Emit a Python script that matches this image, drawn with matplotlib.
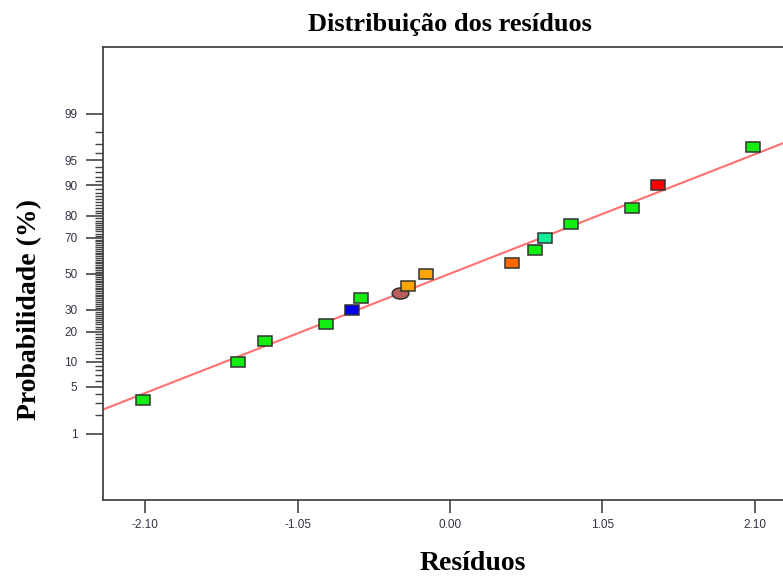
import numpy as np
import matplotlib
matplotlib.use("Agg")
import matplotlib.pyplot as plt
from matplotlib.markers import MarkerStyle
from matplotlib.transforms import Affine2D
from statistics import NormalDist

# residuals and their normal probability (%)
residuos = [-2.114, -1.460, -1.274, -0.854, -0.673, -0.613, -0.342, -0.291,
            -0.165, 0.425, 0.587, 0.652, 0.833, 1.253, 1.430, 2.087]
prob = [3.32, 10.0, 16.5, 23.2, 29.9, 36.4, 38.7, 43.1,
        49.8, 56.4, 63.3, 69.8, 76.5, 83.1, 90.0, 96.7]
cores = ["#11ee11", "#11ee11", "#11ee11", "#11ee11", "#0000ee", "#11ee11",
         "#b85c5c", "#ffa500", "#ffa500", "#ff6a00", "#11ee11", "#11ee99",
         "#11ee11", "#11ee11", "#ff0000", "#11ee11"]
elipse = [False] * 6 + [True] + [False] * 9

# reference line: normal with mean 0, sd 1.21
linha_x = [-2.39, 2.39]
linha_sd = 1.21

yticks = [1, 5, 10, 20, 30, 50, 70, 80, 90, 95, 99]
xticks = [-2.10, -1.05, 0.00, 1.05, 2.10]

nd = NormalDist()


def fwd(p):
    p = np.clip(np.asarray(p, dtype=float), 1e-6, 100 - 1e-6)
    return np.vectorize(lambda v: nd.inv_cdf(v / 100.0))(p)


def inv(z):
    return np.vectorize(lambda v: nd.cdf(v) * 100.0)(np.asarray(z, dtype=float))


fig = plt.figure(figsize=(7.83, 5.77), dpi=100)
ax = fig.add_axes([103 / 783, 77 / 577, 694 / 783, 452.7 / 577])
ax.set_yscale("function", functions=(fwd, inv))

# fitted line
lx = np.array(linha_x)
ly = inv(lx / linha_sd)
ax.plot(lx, ly, color="#ff7070", lw=1.5, zorder=2)

sq = MarkerStyle("s", transform=Affine2D().scale(1.4, 1.0))
ov = MarkerStyle("o", transform=Affine2D().scale(1.5, 1.0))
for x, p, c, e in zip(residuos, prob, cores, elipse):
    ax.plot([x], [p], marker=ov if e else sq, ms=8 if e else 7.5,
            mfc=c, mec="#333333", mew=1.1, ls="none", zorder=3)

ax.set_xlim(-2.39, 2.39)
ax.set_ylim(inv(-3.29), inv(3.29))

ax.set_xticks(xticks)
ax.set_xticklabels(["%.2f" % t for t in xticks])
ax.set_yticks(yticks)
ax.set_yticklabels([str(t) for t in yticks])
ax.set_yticks(list(range(1, 100)), minor=True)
ax.xaxis.set_minor_locator(matplotlib.ticker.NullLocator())

ax.tick_params(axis="y", which="major", length=12.5, width=1.2, color="#444444",
               labelsize=8.5, labelcolor="#333344", pad=6, direction="out")
ax.tick_params(axis="y", which="minor", length=5.5, width=1.0, color="#444444",
               direction="out")
ax.tick_params(axis="x", which="major", length=9, width=1.2, color="#444444",
               labelsize=8.5, labelcolor="#333344", pad=5, direction="out")
for lab in ax.get_xticklabels() + ax.get_yticklabels():
    lab.set_family("Liberation Sans")
for s in ax.spines.values():
    s.set_color("#444444")
    s.set_linewidth(1.3)

fig.text(450 / 783, 1 - 24 / 577, "Distribuição dos resíduos", ha="center", va="center",
         family="Liberation Serif", weight="bold", fontsize=19)
fig.text(473 / 783, 1 - 563 / 577, "Resíduos", ha="center", va="center",
         family="Liberation Serif", weight="bold", fontsize=20)
fig.text(30 / 783, 1 - 310 / 577, "Probabilidade (%)", ha="center", va="center",
         rotation=90, family="Liberation Serif", weight="bold", fontsize=20)

fig.savefig("out.png", dpi=100)
